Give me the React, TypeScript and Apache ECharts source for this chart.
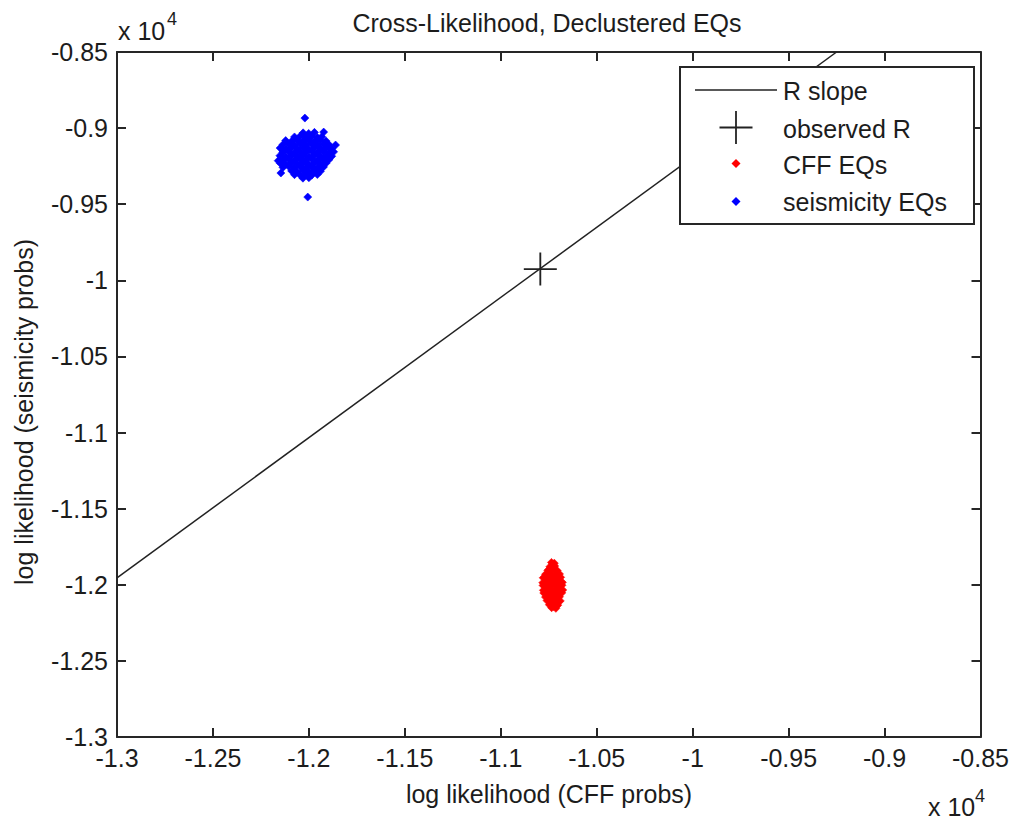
import React, { useEffect, useRef } from "react";
import * as echarts from "echarts";

// Axis range (raw log-likelihood values, labelled in units of 10^4)
const AXIS_MIN = -13000;
const AXIS_MAX = -8500;
const AXIS_STEP = 500;

// Line through the origin with the observed likelihood ratio as slope
const rSlopeLine: number[][] = [
  [-13000, -11955],
  [-9250, -8500],
];

// Observed cross-likelihood point
const observedR: number[][] = [[-10794, -9926]];

// Synthetic catalogues drawn from the CFF probabilities
const cffEQs: number[][] = [
  [-10736, -11853], [-10721, -11858], [-10729, -11866],
  [-10744, -11881], [-10719, -11877], [-10731, -11886],
  [-10755, -11905], [-10730, -11902], [-10706, -11907],
  [-10767, -11931], [-10742, -11927], [-10717, -11933], [-10694, -11929],
  [-10779, -11954], [-10755, -11958], [-10730, -11952], [-10705, -11957], [-10688, -11951],
  [-10767, -11981], [-10742, -11977], [-10717, -11983], [-10692, -11978], [-10781, -11986], [-10679, -11984],
  [-10780, -12004], [-10755, -12008], [-10730, -12001], [-10705, -12006], [-10681, -12003],
  [-10767, -12031], [-10742, -12027], [-10717, -12033], [-10692, -12028], [-10778, -12036], [-10677, -12034],
  [-10776, -12054], [-10755, -12058], [-10730, -12052], [-10705, -12057], [-10682, -12053],
  [-10767, -12081], [-10742, -12077], [-10717, -12084], [-10694, -12079],
  [-10759, -12104], [-10735, -12108], [-10710, -12101], [-10690, -12106],
  [-10747, -12131], [-10725, -12127], [-10703, -12134],
  [-10735, -12151], [-10713, -12155], [-10724, -12143],
];

// Synthetic catalogues drawn from the seismicity probabilities
const seismicityEQs: number[][] = [
  [-12030, -9031], [-12001, -9035], [-11971, -9028],
  [-12075, -9058], [-12046, -9054], [-12015, -9060], [-11985, -9053], [-11956, -9061], [-11933, -9056],
  [-12121, -9082], [-12090, -9086], [-12061, -9079], [-12030, -9085], [-12000, -9080], [-11969, -9087], [-11941, -9078], [-11911, -9084],
  [-12135, -9108], [-12104, -9104], [-12076, -9111], [-12045, -9105], [-12014, -9109], [-11986, -9102], [-11955, -9110], [-11924, -9104], [-11896, -9108],
  [-12150, -9131], [-12119, -9136], [-12091, -9129], [-12060, -9135], [-12029, -9130], [-12001, -9137], [-11970, -9128], [-11939, -9134], [-11911, -9131], [-11881, -9136],
  [-12136, -9158], [-12105, -9153], [-12074, -9160], [-12046, -9155], [-12015, -9159], [-11984, -9152], [-11956, -9161], [-11925, -9154], [-11894, -9158], [-11871, -9156],
  [-12151, -9181], [-12120, -9186], [-12089, -9179], [-12061, -9185], [-12030, -9180], [-11999, -9187], [-11971, -9178], [-11940, -9184], [-11909, -9181], [-11881, -9185],
  [-12134, -9208], [-12106, -9203], [-12075, -9211], [-12044, -9205], [-12016, -9209], [-11985, -9202], [-11954, -9210], [-11926, -9204], [-11896, -9208],
  [-12149, -9231], [-12121, -9236], [-12090, -9229], [-12059, -9235], [-12031, -9230], [-12000, -9237], [-11969, -9228], [-11941, -9234], [-11911, -9231],
  [-12135, -9258], [-12104, -9253], [-12076, -9261], [-12045, -9254], [-12014, -9259], [-11986, -9252], [-11955, -9260], [-11924, -9255],
  [-12090, -9281], [-12061, -9286], [-12030, -9279], [-11999, -9285], [-11971, -9280], [-11940, -9284],
  [-12075, -9306], [-12044, -9310], [-12016, -9304], [-11985, -9309], [-11956, -9305],
  [-12031, -9329], [-12000, -9326],
  [-12021, -8934], [-12146, -9295], [-12006, -9453], [-11861, -9111], [-12160, -9214], [-11923, -9026],
];

const FONT = '"Liberation Sans", Arial, Helvetica, sans-serif';
const INK = "#262626";
const TEXT = "#1c1c1c";
const FS = 25;

const tickLabel = (v: number) => String(Number((v / 10000).toFixed(2)));

// Thin "+" marker
const CROSS = "path://M15.1,0h1.8v32h-1.8z M0,15.1h32v1.8h-32z";

const axisLine = { show: true, onZero: false, lineStyle: { color: INK, width: 2 } };
const axisTick = { show: true, inside: true, length: 9, lineStyle: { color: INK, width: 2 } };

function buildOption() {
  const labelStyle = {
    formatter: tickLabel,
    fontFamily: FONT,
    fontSize: FS,
    color: TEXT,
    showMinLabel: true,
    showMaxLabel: true,
  };
  const base = {
    type: "value" as const,
    min: AXIS_MIN,
    max: AXIS_MAX,
    interval: AXIS_STEP,
    splitLine: { show: false },
    axisLine,
    axisTick,
  };

  const legendX = 680;
  const legendY = 67;
  const markX = 736;
  const textX = 783;
  const rows = [91, 129, 165, 202];

  const diamond = (cx: number, cy: number, color: string) => ({
    type: "polygon",
    z: 101,
    shape: { points: [[cx, cy - 4.5], [cx + 4.5, cy], [cx, cy + 4.5], [cx - 4.5, cy]] },
    style: { fill: color },
  });

  const legendText = (label: string, y: number) => ({
    type: "text",
    z: 101,
    x: textX,
    y,
    style: {
      text: label,
      font: `${FS}px ${FONT}`,
      fill: TEXT,
      textAlign: "left",
      textVerticalAlign: "middle",
    },
  });

  return {
    animation: false,
    backgroundColor: "#ffffff",
    grid: { left: 117, right: 26, top: 52, bottom: 83, containLabel: false },
    xAxis: [
      { ...base, position: "bottom", axisLabel: { ...labelStyle, margin: 8 } },
      { ...base, position: "top", axisLabel: { show: false } },
    ],
    yAxis: [
      { ...base, position: "left", axisLabel: { ...labelStyle, margin: 9 } },
      { ...base, position: "right", axisLabel: { show: false } },
    ],
    series: [
      {
        name: "R slope",
        type: "line",
        data: rSlopeLine,
        symbol: "none",
        clip: true,
        lineStyle: { color: "#222222", width: 1.5 },
        z: 3,
      },
      {
        name: "CFF EQs",
        type: "scatter",
        data: cffEQs,
        symbol: "diamond",
        symbolSize: 8,
        itemStyle: { color: "#ff0000", borderColor: "#ff0000", borderWidth: 0.6, opacity: 1 },
        z: 4,
      },
      {
        name: "seismicity EQs",
        type: "scatter",
        data: seismicityEQs,
        symbol: "diamond",
        symbolSize: 8,
        itemStyle: { color: "#0000ff", borderColor: "#0000ff", borderWidth: 0.6, opacity: 1 },
        z: 4,
      },
      {
        name: "observed R",
        type: "scatter",
        data: observedR,
        symbol: CROSS,
        symbolSize: 33,
        itemStyle: { color: "#222222", opacity: 1 },
        z: 5,
      },
    ],
    graphic: [
      // title
      {
        type: "text",
        x: 547,
        y: 23,
        style: {
          text: "Cross-Likelihood, Declustered EQs",
          font: `${FS}px ${FONT}`,
          fill: TEXT,
          textAlign: "center",
          textVerticalAlign: "middle",
        },
      },
      // x axis title
      {
        type: "text",
        x: 549,
        y: 794,
        style: {
          text: "log likelihood (CFF probs)",
          font: `${FS}px ${FONT}`,
          fill: TEXT,
          textAlign: "center",
          textVerticalAlign: "middle",
        },
      },
      // y axis title
      {
        type: "text",
        x: 24,
        y: 412,
        rotation: Math.PI / 2,
        style: {
          text: "log likelihood (seismicity probs)",
          font: `${FS}px ${FONT}`,
          fill: TEXT,
          textAlign: "center",
          textVerticalAlign: "middle",
        },
      },
      // exponent markers
      {
        type: "text",
        x: 118,
        y: 31,
        style: { text: "x 10", font: `${FS}px ${FONT}`, fill: TEXT, textAlign: "left", textVerticalAlign: "middle" },
      },
      {
        type: "text",
        x: 167,
        y: 19,
        style: { text: "4", font: `18px ${FONT}`, fill: TEXT, textAlign: "left", textVerticalAlign: "middle" },
      },
      {
        type: "text",
        x: 928,
        y: 807,
        style: { text: "x 10", font: `${FS}px ${FONT}`, fill: TEXT, textAlign: "left", textVerticalAlign: "middle" },
      },
      {
        type: "text",
        x: 975,
        y: 796,
        style: { text: "4", font: `18px ${FONT}`, fill: TEXT, textAlign: "left", textVerticalAlign: "middle" },
      },
      // legend box
      {
        type: "rect",
        z: 100,
        shape: { x: legendX, y: legendY, width: 294, height: 157 },
        style: { fill: "#ffffff", stroke: INK, lineWidth: 2 },
      },
      {
        type: "line",
        z: 101,
        shape: { x1: 695, y1: rows[0] - 1, x2: 777, y2: rows[0] - 1 },
        style: { stroke: "#222222", lineWidth: 1.5 },
      },
      {
        type: "line",
        z: 101,
        shape: { x1: markX - 16.5, y1: 127.5, x2: markX + 16.5, y2: 127.5 },
        style: { stroke: "#222222", lineWidth: 1.8 },
      },
      {
        type: "line",
        z: 101,
        shape: { x1: markX, y1: 111, x2: markX, y2: 144 },
        style: { stroke: "#222222", lineWidth: 1.8 },
      },
      diamond(markX, 163.5, "#ff0000"),
      diamond(markX, 201.5, "#0000ff"),
      legendText("R slope", rows[0]),
      legendText("observed R", rows[1]),
      legendText("CFF EQs", rows[2]),
      legendText("seismicity EQs", rows[3]),
    ],
  };
}

export default function App() {
  const ref = useRef<HTMLDivElement | null>(null);

  useEffect(() => {
    if (!ref.current) return;
    const chart = echarts.init(ref.current, null, { renderer: "svg" });
    chart.setOption(buildOption() as any);
    return () => chart.dispose();
  }, []);

  return (
    <div
      ref={ref}
      style={{ position: "fixed", left: 0, top: 0, width: 1012, height: 820, background: "#ffffff" }}
    />
  );
}
